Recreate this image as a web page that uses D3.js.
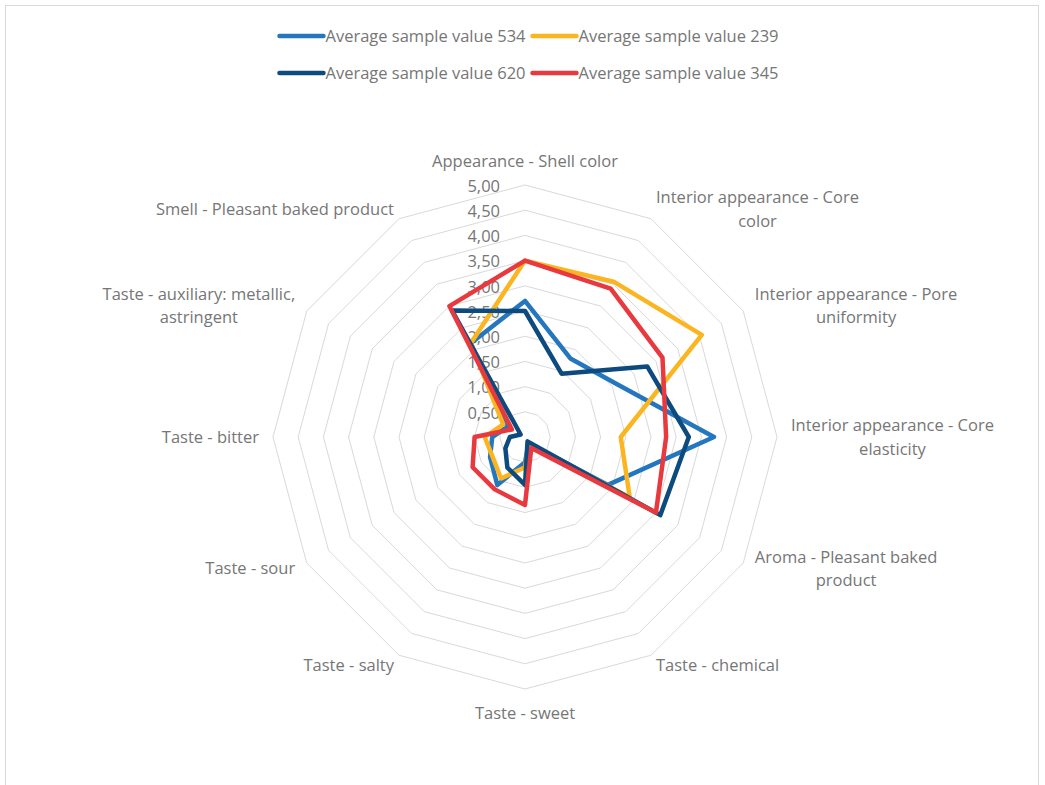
<!DOCTYPE html>
<html>
<head>
<meta charset="utf-8">
<script src="https://cdn.jsdelivr.net/npm/d3@7"></script>
<style>
  html, body { margin: 0; padding: 0; background: #fff; }
  svg { display: block; font-family: "Open Sans", sans-serif; }
</style>
</head>
<body>
<svg id="chart" width="1045" height="785"></svg>
<script>
// categories, clockwise from the top (\n = line break in the label)
const categories = [
  "Appearance - Shell color",
  "Interior appearance - Core\ncolor",
  "Interior appearance - Pore\nuniformity",
  "Interior appearance - Core\nelasticity",
  "Aroma - Pleasant baked\nproduct",
  "Taste - chemical",
  "Taste - sweet",
  "Taste - salty",
  "Taste - sour",
  "Taste - bitter",
  "Taste - auxiliary: metallic,\nastringent",
  "Smell - Pleasant baked product"
];

const seriesNames = [
  "Average sample value 534",
  "Average sample value 239",
  "Average sample value 620",
  "Average sample value 345"
];

const sample534 = [2.7, 1.8, 2.1, 3.75, 1.9, 0.15, 0.5, 1.1, 0.8, 0.65, 0.4, 2.15];
const sample239 = [3.5, 3.55, 4.05, 1.9, 2.4, 0.15, 0.6, 0.95, 0.75, 0.8, 0.5, 2.15];
const sample620 = [2.5, 1.45, 2.8, 3.25, 3.1, 0.1, 0.95, 0.7, 0.45, 0.3, 0.1, 2.9];
const sample345 = [3.5, 3.4, 3.15, 2.8, 3.0, 0.25, 1.35, 1.2, 1.2, 1.0, 0.3, 3.0];

const tickValues = [0.5, 1, 1.5, 2, 2.5, 3, 3.5, 4, 4.5, 5];

const colors = ["#2477be", "#fbb520", "#0d4a7d", "#e8393e"];

const series = [sample534, sample239, sample620, sample345];

const svg = d3.select("#chart");
const textColor = "#767676";
const fontSize = 16.5;

// chart border
svg.append("rect")
  .attr("x", 5.5).attr("y", 5.5)
  .attr("width", 1033).attr("height", 800)
  .attr("fill", "none")
  .attr("stroke", "#d9d9d9");

const cx = 525, cy = 437, R = 252;

const r = d3.scaleLinear().domain([0, 5]).range([0, R]);
const angle = d3.scaleLinear().domain([0, categories.length]).range([0, 2 * Math.PI]);

const g = svg.append("g").attr("transform", `translate(${cx},${cy})`);

const radial = d3.lineRadial()
  .angle((d, i) => angle(i))
  .curve(d3.curveLinearClosed);

// rings
g.append("g")
  .selectAll("path")
  .data(tickValues)
  .join("path")
  .attr("d", t => radial.radius(() => r(t))(categories))
  .attr("fill", "none")
  .attr("stroke", "#d9d9d9")
  .attr("stroke-width", 1);

// value labels
const locale = d3.formatLocale({decimal: ",", thousands: ".", grouping: [3], currency: ["", ""]});
const fmt = locale.format(".2f");

g.append("g")
  .selectAll("text")
  .data(tickValues)
  .join("text")
  .attr("x", -25)
  .attr("y", t => -r(t) + 1)
  .attr("dy", "0.35em")
  .attr("text-anchor", "end")
  .attr("font-size", fontSize)
  .attr("fill", textColor)
  .text(t => fmt(t));

// category labels
const labels = g.append("g");
categories.forEach((c, i) => {
  const a = angle(i);
  const s = Math.sin(a), co = Math.cos(a);
  const vx = r(5) * s, vy = -r(5) * co;
  const lines = c.split("\n");
  const t = labels.append("text")
    .attr("font-size", fontSize)
    .attr("fill", textColor)
    .attr("text-anchor", "middle");
  lines.forEach((l, j) => {
    t.append("tspan").attr("x", 0).attr("dy", j ? 23.5 : "0.35em").text(l);
  });
  // widest line decides where the block sits
  let w = 0;
  t.selectAll("tspan").each(function () { w = Math.max(w, this.getComputedTextLength()); });
  const blockH = (lines.length - 1) * 23.5;
  let x, yc;
  if (Math.abs(s) < 0.01) {
    x = vx;
    yc = vy - 24 * co;
  } else {
    const gap = 18 * Math.abs(s) - 4;
    x = vx + Math.sign(s) * (gap + w / 2);
    yc = vy - 11 * co;
  }
  t.attr("transform", `translate(${x},${yc - blockH / 2})`);
});

// series
g.append("g")
  .selectAll("path")
  .data(series)
  .join("path")
  .attr("d", d => d3.lineRadial()
    .angle((v, i) => angle(i))
    .radius(v => r(v))
    .curve(d3.curveLinearClosed)(d))
  .attr("fill", "none")
  .attr("stroke", (d, i) => colors[i])
  .attr("stroke-width", 4.5)
  .attr("stroke-linejoin", "round");

// legend, two per row
const legendRows = [[0, 1], [2, 3]];
const legendY = [36, 73];
const lineLen = 46;
legendRows.forEach((row, ri) => {
  const lg = svg.append("g");
  let x = 0;
  row.forEach(k => {
    const item = lg.append("g").attr("transform", `translate(${x},${legendY[ri]})`);
    item.append("line")
      .attr("x1", 2).attr("x2", lineLen)
      .attr("stroke", colors[k])
      .attr("stroke-width", 4.5)
      .attr("stroke-linecap", "round");
    const tx = item.append("text")
      .attr("x", lineLen + 2)
      .attr("dy", "0.35em")
      .attr("font-size", fontSize)
      .attr("fill", textColor)
      .text(seriesNames[k]);
    x += lineLen + 2 + tx.node().getComputedTextLength() + 5;
  });
  const total = x - 5;
  lg.attr("transform", `translate(${528 - total / 2},0)`);
});
</script>
</body>
</html>
